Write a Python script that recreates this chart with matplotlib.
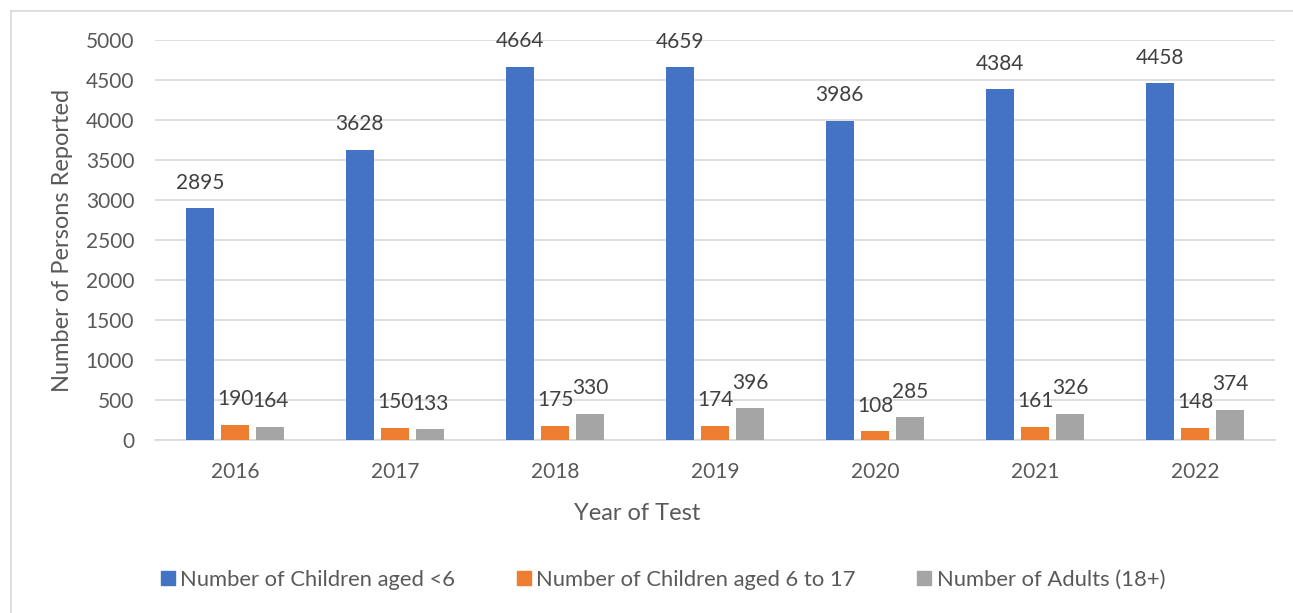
#!/usr/bin/env python3
"""Persons reported by year of test, grouped by age band."""

import matplotlib

matplotlib.use("Agg")

import matplotlib.pyplot as plt
import numpy as np
from matplotlib.lines import Line2D

YEARS = ["2016", "2017", "2018", "2019", "2020", "2021", "2022"]
CHILDREN_UNDER_6 = [2895, 3628, 4664, 4659, 3986, 4384, 4458]
CHILDREN_6_TO_17 = [190, 150, 175, 174, 108, 161, 148]
ADULTS_18_PLUS = [164, 133, 330, 396, 285, 326, 374]
SERIES_NAMES = [
    "Number of Children aged <6",
    "Number of Children aged 6 to 17",
    "Number of Adults (18+)",
]

COLORS = ["#4472C4", "#ED7D31", "#A5A5A5"]
TEXT = "#595959"

plt.rcParams["font.family"] = ["Lato", "DejaVu Sans"]

fig = plt.figure(figsize=(12.93, 6.13), dpi=100)
ax = fig.add_axes([155 / 1293, 1 - 440 / 613, 1120 / 1293, 400 / 613])

x = np.arange(len(YEARS))
width = 0.175
step = 0.22
series = [CHILDREN_UNDER_6, CHILDREN_6_TO_17, ADULTS_18_PLUS]
for k, (vals, color) in enumerate(zip(series, COLORS)):
    pos = x + (k - 1) * step
    ax.bar(pos, vals, width=width, color=color, zorder=3)
    for px, v in zip(pos, vals):
        ax.annotate(f"{v}", (px, v), xytext=(0, 18.5), textcoords="offset points",
                    ha="center", va="center", fontsize=15, color="#404040")

ax.set_xlim(-0.5, len(YEARS) - 0.5)
ax.set_ylim(0, 5000)
ax.set_yticks(np.arange(0, 5001, 500))
ax.set_xticks(x)
ax.set_xticklabels(YEARS)
ax.tick_params(axis="both", length=0, labelsize=15, labelcolor=TEXT)
ax.tick_params(axis="y", pad=15)
ax.tick_params(axis="x", pad=16)
ax.grid(axis="y", color="#D9D9D9", linewidth=1.2, zorder=0)
for side in ["top", "right", "left"]:
    ax.spines[side].set_visible(False)
ax.spines["bottom"].set_color("#D9D9D9")
ax.spines["bottom"].set_linewidth(1.2)

ax.set_xlabel("Year of Test", fontsize=17, color=TEXT, va="center")
ax.xaxis.set_label_coords((637 - 155) / 1120, -73 / 400)
ax.set_ylabel("Number of Persons Reported", fontsize=17, color=TEXT, va="center")
ax.yaxis.set_label_coords(-(155 - 63) / 1120, 0.5)

handles = [Line2D([], [], marker="s", linestyle="none", markersize=10,
                  markerfacecolor=c, markeredgecolor=c) for c in COLORS]
fig.legend(handles, SERIES_NAMES, loc="center", bbox_to_anchor=(663 / 1293, 1 - 580 / 613),
           ncol=3, frameon=False, fontsize=15.8, labelcolor=TEXT, handlelength=0.65,
           handletextpad=0.25, columnspacing=2.8)

# light chart-area border (only top and left edges fall inside the image)
fig.add_artist(Line2D([11 / 1293, 1.0], [1 - 11 / 613] * 2, transform=fig.transFigure,
                      color="#D9D9D9", linewidth=1.2))
fig.add_artist(Line2D([11 / 1293] * 2, [0.0, 1 - 11 / 613], transform=fig.transFigure,
                      color="#D9D9D9", linewidth=1.2))

fig.savefig("out.png", dpi=100)
